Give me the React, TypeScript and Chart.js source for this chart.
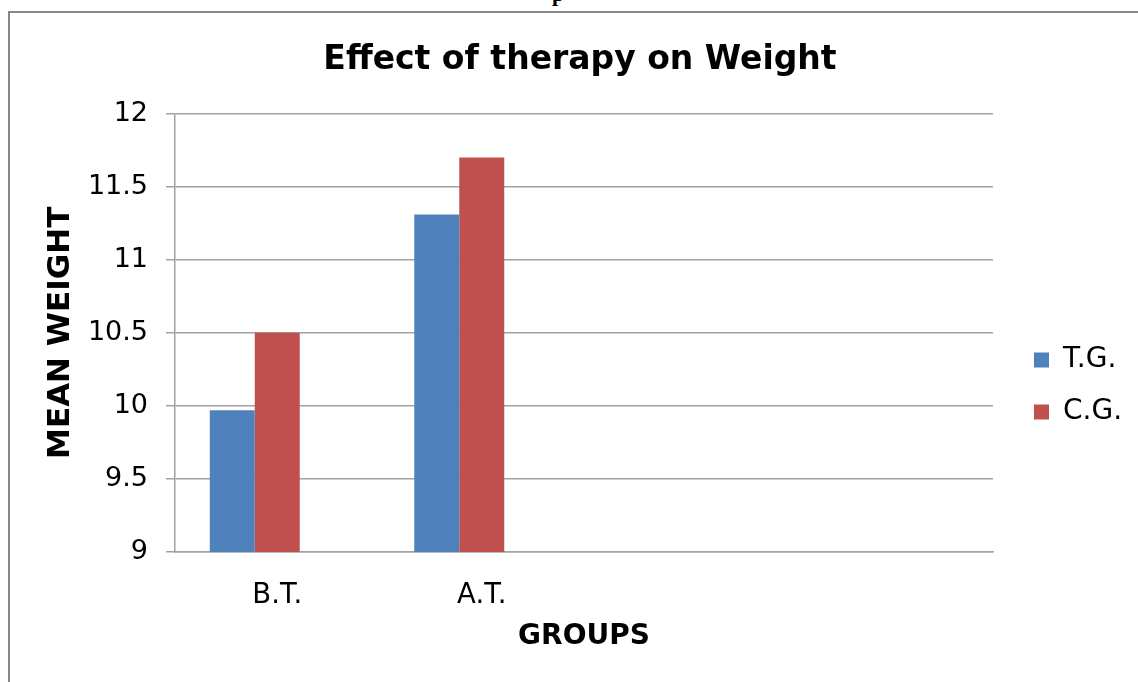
import React, { useEffect, useRef } from "react";
import { Chart, registerables } from "chart.js";

Chart.register(...registerables);

// ---- data ----
const categories = ["B.T.", "A.T.", "", ""];
const seriesNames = ["T.G.", "C.G.", ""];
const tgValues = [9.97, 11.31, null, null];
const cgValues = [10.5, 11.7, null, null];
const emptyValues = [null, null, null, null];
const yMin = 9;
const yMax = 12;
const yStep = 0.5;

const chartTitle = "Effect of therapy on Weight";
const yTitle = "MEAN WEIGHT";
const xTitle = "GROUPS";

// ---- style / layout constants ----
const FONT = "'DejaVu Sans', Verdana, sans-serif";
const GRID = "#a2a2a2";
const BLUE = "#4f81bd";
const RED = "#c0504d";
const TITLE_CENTER_X = 580;
const LEGEND_BOX_X = 1034;
const LEGEND_FIRST_Y = 360;

const placeBlocks = {
  id: "placeBlocks",
  afterLayout(chart: any) {
    const legend = chart.legend;
    if (legend) {
      const lab = legend.options.labels;
      const pad = lab.padding;
      const fs = lab.font.size;
      const itemH = Math.max(fs, lab.boxHeight ?? fs);
      legend.left = LEGEND_BOX_X - pad;
      legend.right = legend.left + 140;
      legend.width = 140;
      legend.top = LEGEND_FIRST_Y - pad - itemH / 2;
      legend.bottom = legend.top + 200;
      legend.height = 200;
    }
    const t = chart.titleBlock;
    if (t) {
      const shift = TITLE_CENTER_X - (t.left + t.right) / 2;
      t.left += shift;
      t.right += shift;
    }
  },
};

export default function App() {
  const ref = useRef<HTMLCanvasElement | null>(null);

  useEffect(() => {
    document.body.style.margin = "0";
    const canvas = ref.current;
    if (!canvas) return;
    const chart = new Chart(canvas, {
      type: "bar",
      data: {
        labels: categories,
        datasets: [
          { label: seriesNames[0], data: tgValues, backgroundColor: BLUE, borderWidth: 0 },
          { label: seriesNames[1], data: cgValues, backgroundColor: RED, borderWidth: 0 },
          { label: seriesNames[2], data: emptyValues, backgroundColor: "#9bbb59", borderWidth: 0 },
        ],
      },
      options: {
        responsive: false,
        animation: false,
        devicePixelRatio: 1,
        layout: { padding: { left: 22, right: 144, top: 0, bottom: 0 } },
        datasets: { bar: { categoryPercentage: 0.66, barPercentage: 1 } },
        plugins: {
          title: {
            display: true,
            text: chartTitle,
            color: "#000",
            font: { family: FONT, size: 33, weight: "bold" },
            padding: { top: 41, bottom: 33 },
          },
          legend: {
            display: true,
            position: "right",
            align: "start",
            maxWidth: 1,
            labels: {
              color: "#000",
              font: { family: FONT, size: 28 },
              boxWidth: 15,
              boxHeight: 15,
              padding: 24,
              filter: (item: any) => item.datasetIndex < 2,
            },
          },
          tooltip: { enabled: false },
        },
        scales: {
          x: {
            grid: { display: false, drawTicks: false },
            border: { display: true, color: GRID, width: 1.5 },
            ticks: { color: "#000", font: { family: FONT, size: 27.5 }, padding: 27, maxRotation: 0, autoSkip: false },
            title: {
              display: true,
              text: xTitle,
              color: "#000",
              font: { family: FONT, size: 28, weight: "bold" },
              padding: { top: 0, bottom: 28 },
            },
            afterFit: (s: any) => { s.height = 130; },
          },
          y: {
            min: yMin,
            max: yMax,
            grid: { color: GRID, lineWidth: 1.5, tickLength: 9, drawTicks: true },
            border: { display: true, color: GRID, width: 1.5 },
            ticks: {
              stepSize: yStep,
              color: "#000",
              font: { family: FONT, size: 27 },
              padding: 18,
              callback: (v: any) => String(Number(v)),
            },
            title: {
              display: true,
              text: yTitle,
              color: "#000",
              font: { family: FONT, size: 31, weight: "bold" },
              padding: { top: 20, bottom: 0 },
            },
            afterFit: (s: any) => { s.width = 153; },
          },
        },
      } as any,
      plugins: [placeBlocks],
    });
    return () => chart.destroy();
  }, []);

  return (
    <div style={{ position: "relative", width: 1138, height: 682, overflow: "hidden", background: "#fff" }}>
      <span
        style={{
          position: "absolute",
          left: 552,
          top: -17,
          fontFamily: "'Liberation Serif', serif",
          fontWeight: "bold",
          fontSize: 22,
          lineHeight: "22px",
        }}
      >
        p
      </span>
      <div
        style={{
          position: "absolute",
          left: 8,
          top: 11,
          width: 1200,
          height: 700,
          borderLeft: "2px solid #878787",
          borderTop: "2px solid #878787",
        }}
      />
      <canvas ref={ref} width={1138} height={682} style={{ position: "absolute", left: 0, top: 0 }} />
    </div>
  );
}
